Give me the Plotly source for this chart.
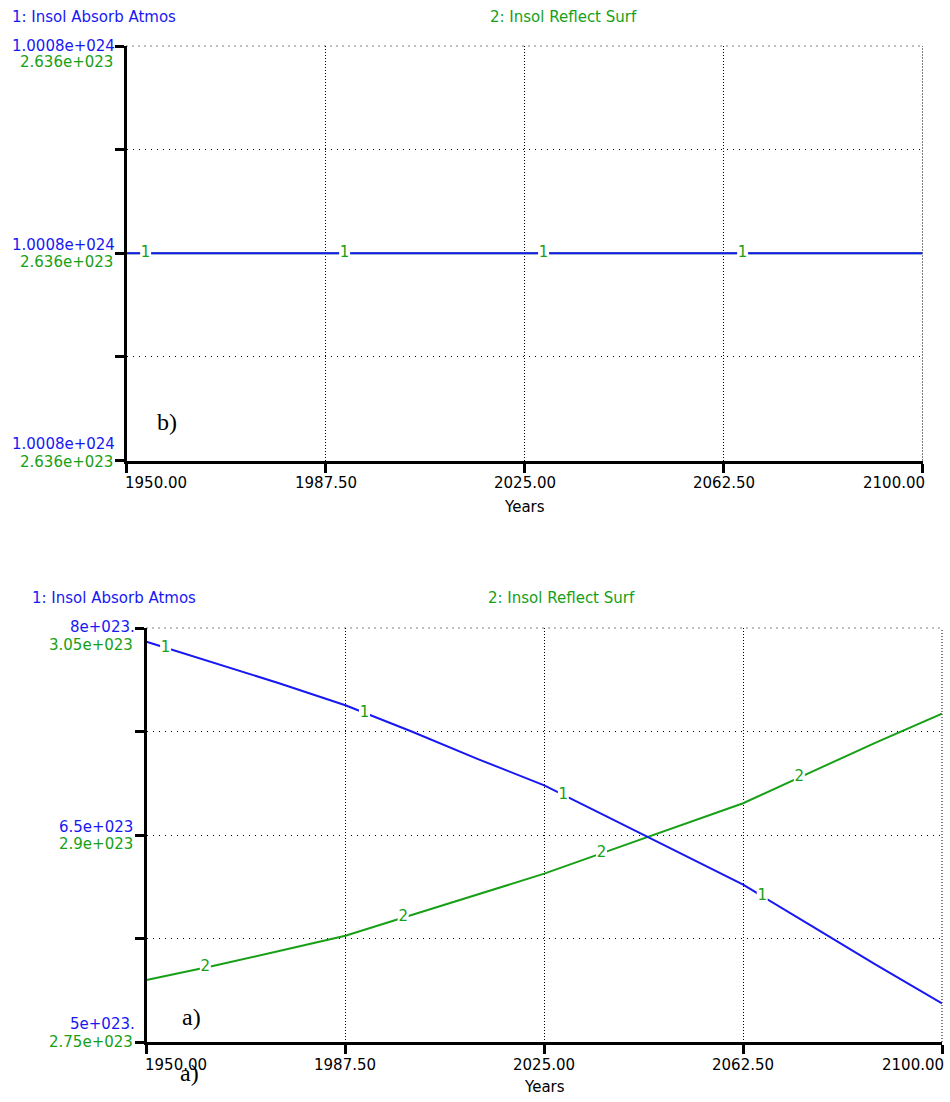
import numpy as np
import plotly.graph_objects as go

# ---- data -------------------------------------------------------------
years = [1950, 1962.5, 1975, 1987.5, 2000, 2012.5, 2025,
         2037.5, 2050, 2062.5, 2075, 2087.5, 2100]

# panel a) : insolation absorbed by atmosphere / reflected by surface
absorb_atmos_a = [7.90e23, 7.75e23, 7.60e23, 7.44e23, 7.25e23, 7.05e23, 6.86e23,
                  6.62e23, 6.38e23, 6.14e23, 5.85e23, 5.56e23, 5.28e23]
reflect_surf_a = [2.795e23, 2.805e23, 2.816e23, 2.827e23, 2.842e23, 2.857e23, 2.872e23,
                  2.889e23, 2.906e23, 2.923e23, 2.945e23, 2.967e23, 2.988e23]

# panel b) : both quantities stay constant
years_b = [1950, 2100]
absorb_atmos_b = [1.0008e24, 1.0008e24]
reflect_surf_b = [2.636e23, 2.636e23]

x_ticks = [1950, 1987.5, 2025, 2062.5, 2100]

# scale limits
a_blue_range = [5e23, 8e23]
a_green_range = [2.75e23, 3.05e23]
b_blue_range = [1.0008e24 - 1e19, 1.0008e24 + 1e19]
b_green_range = [2.636e23 - 1e18, 2.636e23 + 1e18]

# where the curve numbers sit along each line
label_years_1 = [1953.6, 1991.1, 2028.6, 2066.1]
label_years_2 = [1961.1, 1998.4, 2035.8, 2073.1]

# ---- styling ----------------------------------------------------------
BLUE = "#1818f2"
GREEN = "#17a017"
FONT = "DejaVu Sans"
W, H = 950, 1102


def px(x):
    return x / W


def py(y):
    return 1 - y / H


fig = go.Figure()


def add_line(x, y, color, xa, ya):
    fig.add_trace(go.Scatter(x=x, y=y, mode="lines", xaxis=xa, yaxis=ya,
                             line=dict(color=color, width=2), showlegend=False,
                             hoverinfo="skip"))


def add_numbers(xs, xdata, ydata, text, xa, ya):
    ys = np.interp(xs, xdata, ydata)
    fig.add_trace(go.Scatter(x=xs, y=ys, mode="markers+text", xaxis=xa, yaxis=ya,
                             text=[text] * len(xs), textposition="middle center",
                             textfont=dict(family=FONT, size=15, color=GREEN),
                             marker=dict(symbol="square", size=11, color="white",
                                         line=dict(width=0)),
                             showlegend=False, hoverinfo="skip"))


# panel b (top): green on base axis, blue on overlay so blue sits on top
add_line(years_b, reflect_surf_b, GREEN, "x", "y")
add_line(years_b, absorb_atmos_b, BLUE, "x", "y2")
add_numbers(label_years_1, years_b, absorb_atmos_b, "1", "x", "y2")

# panel a (bottom)
add_line(years, reflect_surf_a, GREEN, "x2", "y3")
add_numbers(label_years_2, years, reflect_surf_a, "2", "x2", "y3")
add_line(years, absorb_atmos_a, BLUE, "x2", "y4")
add_numbers(label_years_1, years, absorb_atmos_a, "1", "x2", "y4")

xaxis_common = dict(
    range=[1950, 2100], tickvals=x_ticks, showticklabels=False,
    showline=True, linewidth=3, linecolor="black",
    ticks="outside", ticklen=9, tickwidth=3, tickcolor="black",
    showgrid=True, gridcolor="black", gridwidth=1, griddash="1px,2px",
    zeroline=False, automargin=False,
)

yaxis_common = dict(
    showline=True, linewidth=3, linecolor="black",
    ticks="outside", ticklen=9, tickwidth=3, tickcolor="black",
    showgrid=True, gridcolor="black", gridwidth=1, griddash="1px,5px",
    zeroline=False, showticklabels=False, automargin=False,
)


def five_ticks(r):
    return list(np.linspace(r[0], r[1], 5))


TOP = (46, 460.5, 126.5, 922.5)      # plot box: top, bottom, left, right (px)
BOT = (628, 1042, 146.5, 942)

fig.update_layout(
    width=W, height=H,
    margin=dict(l=0, r=0, t=0, b=0, autoexpand=False),
    paper_bgcolor="white", plot_bgcolor="white",
    xaxis=dict(domain=[px(TOP[2]), px(TOP[3])], anchor="y", **xaxis_common),
    yaxis=dict(domain=[py(TOP[1]), py(TOP[0])], anchor="x", range=b_green_range,
               tickvals=five_ticks(b_green_range), **yaxis_common),
    yaxis2=dict(overlaying="y", range=b_blue_range, visible=False, automargin=False),
    xaxis2=dict(domain=[px(BOT[2]), px(BOT[3])], anchor="y3", **xaxis_common),
    yaxis3=dict(domain=[py(BOT[1]), py(BOT[0])], anchor="x2", range=a_green_range,
                tickvals=five_ticks(a_green_range), **yaxis_common),
    yaxis4=dict(overlaying="y3", range=a_blue_range, visible=False, automargin=False),
)

# dotted frame along the top and right edges of each plot box
shapes = []
for xa, ya in (("x", "y"), ("x2", "y3")):
    shapes.append(dict(type="line", xref=f"{xa} domain", yref=f"{ya} domain",
                       x0=0, x1=1, y0=1, y1=1, layer="below",
                       line=dict(color="black", width=1, dash="1px,5px")))
    shapes.append(dict(type="line", xref=f"{xa} domain", yref=f"{ya} domain",
                       x0=1, x1=1, y0=0, y1=1, layer="below",
                       line=dict(color="black", width=1, dash="1px,2px")))
fig.update_layout(shapes=shapes)

annotations = []


def txt(x, y, s, color, xanchor="left", size=15, family=FONT):
    annotations.append(dict(x=px(x), y=py(y), xref="paper", yref="paper", text=s,
                            showarrow=False, xanchor=xanchor, yanchor="middle",
                            font=dict(family=family, size=size, color=color)))


# series titles
txt(10, 17, "1: Insol Absorb Atmos", BLUE)
txt(488, 17, "2: Insol Reflect Surf", GREEN)
txt(30, 598, "1: Insol Absorb Atmos", BLUE)
txt(486, 598, "2: Insol Reflect Surf", GREEN)


def tick_label(xpix, yref, val, s, color, shift):
    annotations.append(dict(x=px(xpix), y=val, xref="paper", yref=yref, text=s,
                            showarrow=False, xanchor="right", yanchor="middle",
                            yshift=shift,
                            font=dict(family=FONT, size=15, color=color)))


# panel b value labels (top, middle, bottom tick)
tick_label(117, "y2", b_blue_range[1], "1.0008e+024", BLUE, 0)
tick_label(115, "y", b_green_range[1], "2.636e+023", GREEN, -16)
tick_label(117, "y2", np.mean(b_blue_range), "1.0008e+024", BLUE, 8)
tick_label(115, "y", np.mean(b_green_range), "2.636e+023", GREEN, -9)
tick_label(117, "y2", b_blue_range[0], "1.0008e+024", BLUE, 17)
tick_label(115, "y", b_green_range[0], "2.636e+023", GREEN, -1)

# panel a value labels
tick_label(137, "y4", a_blue_range[1], "8e+023.", BLUE, 1)
tick_label(135, "y3", a_green_range[1], "3.05e+023", GREEN, -17)
tick_label(135, "y4", np.mean(a_blue_range), "6.5e+023", BLUE, 8)
tick_label(135, "y3", np.mean(a_green_range), "2.9e+023", GREEN, -9)
tick_label(137, "y4", a_blue_range[0], "5e+023.", BLUE, 18)
tick_label(135, "y3", a_green_range[0], "2.75e+023", GREEN, 0)


# year labels: first one hugs the left end, last one the right end
def year_labels(xref, ypix):
    for i, v in enumerate(x_ticks):
        anchor = "left" if i == 0 else ("right" if i == len(x_ticks) - 1 else "center")
        shift = -4 if i == 0 else (4 if i == len(x_ticks) - 1 else 0)
        annotations.append(dict(x=v, y=py(ypix), xref=xref, yref="paper",
                                text=f"{v:.2f}", showarrow=False, xanchor=anchor,
                                yanchor="middle", xshift=shift,
                                font=dict(family=FONT, size=15, color="black")))


year_labels("x", 483)
year_labels("x2", 1065)
txt((TOP[2] + TOP[3]) / 2, 507, "Years", "black", xanchor="center")
txt((BOT[2] + BOT[3]) / 2, 1087, "Years", "black", xanchor="center")

# panel captions
txt(155, 422, "b)", "black", size=24, family="Liberation Serif")
txt(180, 1017, "a)", "black", size=24, family="Liberation Serif")
txt(178, 1073, "a)", "black", size=24, family="Liberation Serif")

fig.update_layout(annotations=annotations)

fig.write_html("out.html")
